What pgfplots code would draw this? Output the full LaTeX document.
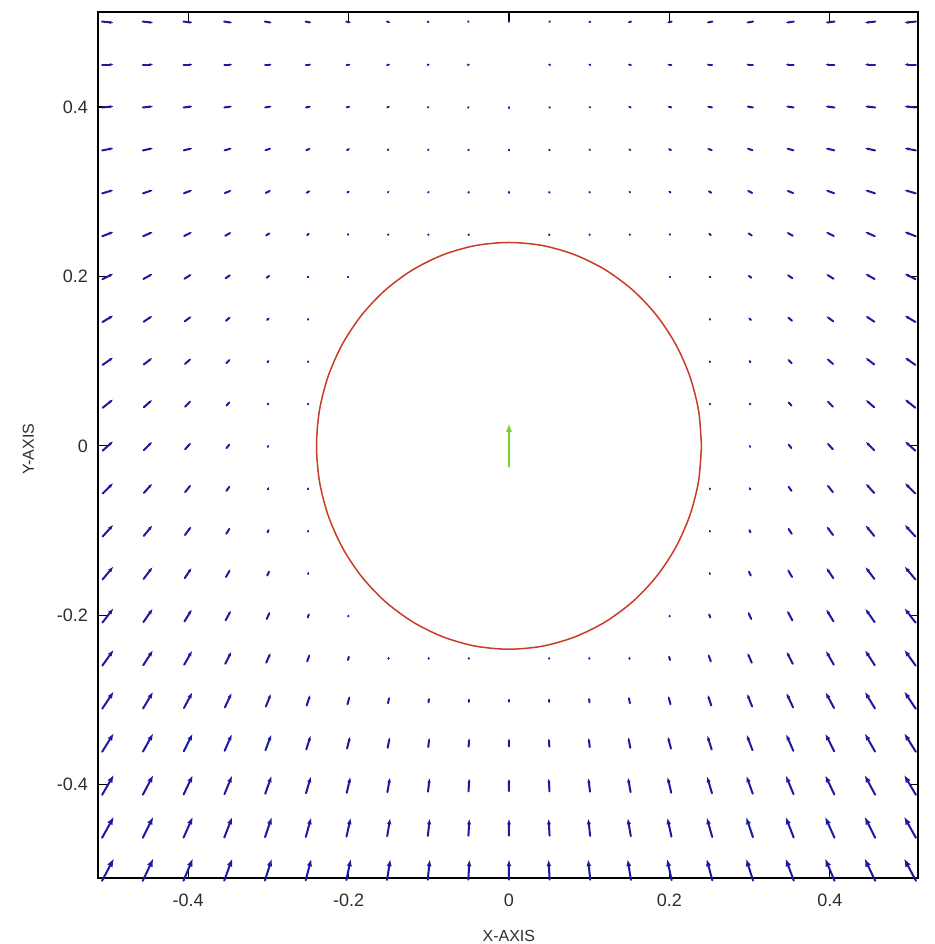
\documentclass[border=0pt]{standalone}
\usepackage{pgfplots}
\pgfplotsset{compat=1.18}
\usepackage{pgfplotstable}
\usetikzlibrary{arrows.meta}
\usepackage{fontspec}
\setmainfont{Liberation Sans}
\definecolor{arrowblue}{RGB}{30,25,160}
\definecolor{circred}{RGB}{200,60,40}
\definecolor{robotgreen}{RGB}{120,210,50}
\definecolor{labelgray}{RGB}{45,45,45}

\pgfplotstableread{
x y u v
-0.5 0.5 0.01493 -0.00141
-0.45 0.5 0.01338 -0.0014
-0.4 0.5 0.01182 -0.00139
-0.35 0.5 0.01025 -0.00138
-0.3 0.5 0.00868 -0.00136
-0.25 0.5 0.00711 -0.00134
-0.2 0.5 0.00558 -0.00132
-0.15 0.5 0.00411 -0.00129
-0.1 0.5 0.00269 -0.00127
-0.05 0.5 0.00182 -0.00171
0 0.5 0.00001 -0.0028
0.05 0.5 -0.00182 -0.00171
0.1 0.5 -0.00269 -0.00127
0.15 0.5 -0.00411 -0.00129
0.2 0.5 -0.00558 -0.00132
0.25 0.5 -0.00711 -0.00134
0.3 0.5 -0.00868 -0.00136
0.35 0.5 -0.01025 -0.00138
0.4 0.5 -0.01182 -0.00139
0.45 0.5 -0.01338 -0.0014
0.5 0.5 -0.01493 -0.00141
-0.5 0.45 0.01487 0
-0.45 0.45 0.01328 0
-0.4 0.45 0.01168 0
-0.35 0.45 0.01004 0
-0.3 0.45 0.0084 0
-0.25 0.45 0.00678 0
-0.2 0.45 0.00523 0
-0.15 0.45 0.00377 0
-0.1 0.45 0.0028 0
-0.05 0.45 0.0028 0
0.05 0.45 -0.0028 0
0.1 0.45 -0.0028 0
0.15 0.45 -0.00377 0
0.2 0.45 -0.00523 0
0.25 0.45 -0.00678 0
0.3 0.45 -0.0084 0
0.35 0.45 -0.01004 0
0.4 0.45 -0.01168 0
0.45 0.45 -0.01328 0
0.5 0.45 -0.01487 0
-0.5 0.4 0.01478 0.00139
-0.45 0.4 0.01314 0.00138
-0.4 0.4 0.01142 0.00135
-0.35 0.4 0.00968 0.0013
-0.3 0.4 0.00796 0.00125
-0.25 0.4 0.00625 0.00118
-0.2 0.4 0.00468 0.0011
-0.15 0.4 0.00325 0.00102
-0.1 0.4 0.00225 0.00107
-0.05 0.4 0.00181 0.00172
0 0.4 0.00001 0.0028
0.05 0.4 -0.00181 0.00172
0.1 0.4 -0.00225 0.00107
0.15 0.4 -0.00325 0.00102
0.2 0.4 -0.00468 0.0011
0.25 0.4 -0.00625 0.00118
0.3 0.4 -0.00796 0.00125
0.35 0.4 -0.00968 0.0013
0.4 0.4 -0.01142 0.00135
0.45 0.4 -0.01314 0.00138
0.5 0.4 -0.01478 0.00139
-0.5 0.35 0.01464 0.00276
-0.45 0.35 0.01291 0.00271
-0.4 0.35 0.01106 0.00261
-0.35 0.35 0.0092 0.00248
-0.3 0.35 0.0073 0.0023
-0.25 0.35 0.00548 0.00207
-0.2 0.35 0.00385 0.00182
-0.15 0.35 0.00251 0.00158
-0.1 0.35 0.00181 0.00171
-0.05 0.35 0.00117 0.00221
0 0.35 0.00001 0.0028
0.05 0.35 -0.00117 0.00221
0.1 0.35 -0.00181 0.00171
0.15 0.35 -0.00251 0.00158
0.2 0.35 -0.00385 0.00182
0.25 0.35 -0.00548 0.00207
0.3 0.35 -0.0073 0.0023
0.35 0.35 -0.0092 0.00248
0.4 0.35 -0.01106 0.00261
0.45 0.35 -0.01291 0.00271
0.5 0.35 -0.01464 0.00276
-0.5 0.3 0.01446 0.00409
-0.45 0.3 0.0126 0.00396
-0.4 0.3 0.01061 0.00375
-0.35 0.3 0.00852 0.00344
-0.3 0.3 0.00644 0.00304
-0.25 0.3 0.00447 0.00253
-0.2 0.3 0.00281 0.00199
-0.15 0.3 0.00182 0.00172
-0.1 0.3 0.00145 0.00203
-0.05 0.3 0.00082 0.00236
0 0.3 0.00001 0.0028
0.05 0.3 -0.00082 0.00236
0.1 0.3 -0.00145 0.00203
0.15 0.3 -0.00182 0.00172
0.2 0.3 -0.00281 0.00199
0.25 0.3 -0.00447 0.00253
0.3 0.3 -0.00644 0.00304
0.35 0.3 -0.00852 0.00344
0.4 0.3 -0.01061 0.00375
0.45 0.3 -0.0126 0.00396
0.5 0.3 -0.01446 0.00409
-0.5 0.25 0.01422 0.00537
-0.45 0.25 0.0122 0.00512
-0.4 0.25 0.01 0.00471
-0.35 0.25 0.00768 0.00414
-0.3 0.25 0.00536 0.00337
-0.25 0.25 0.00327 0.00247
-0.2 0.25 0.00182 0.00172
-0.15 0.25 0.00156 0.00196
-0.1 0.25 0.00117 0.00221
-0.05 0.25 0.0006 0.0024
0.05 0.25 -0.0006 0.0024
0.1 0.25 -0.00117 0.00221
0.15 0.25 -0.00156 0.00196
0.2 0.25 -0.00182 0.00172
0.25 0.25 -0.00327 0.00247
0.3 0.25 -0.00536 0.00337
0.35 0.25 -0.00768 0.00414
0.4 0.25 -0.01 0.00471
0.45 0.25 -0.0122 0.00512
0.5 0.25 -0.01422 0.00537
-0.5 0.2 0.01395 0.00658
-0.45 0.2 0.01177 0.00617
-0.4 0.2 0.00936 0.00552
-0.35 0.2 0.00674 0.00454
-0.3 0.2 0.00422 0.00332
-0.25 0.2 0.00206 0.00195
-0.2 0.2 0.00162 0.0019
0.2 0.2 -0.00162 0.0019
0.25 0.2 -0.00206 0.00195
0.3 0.2 -0.00422 0.00332
0.35 0.2 -0.00674 0.00454
0.4 0.2 -0.00936 0.00552
0.45 0.2 -0.01177 0.00617
0.5 0.2 -0.01395 0.00658
-0.5 0.15 0.0137 0.00775
-0.45 0.15 0.01131 0.00711
-0.4 0.15 0.00868 0.00614
-0.35 0.15 0.00585 0.00473
-0.3 0.15 0.00314 0.00296
-0.25 0.15 0.00166 0.00187
0.25 0.15 -0.00166 0.00187
0.3 0.15 -0.00314 0.00296
0.35 0.15 -0.00585 0.00473
0.4 0.15 -0.00868 0.00614
0.45 0.15 -0.01131 0.00711
0.5 0.15 -0.0137 0.00775
-0.5 0.1 0.01347 0.0089
-0.45 0.1 0.01095 0.00803
-0.4 0.1 0.0081 0.00669
-0.35 0.1 0.00508 0.00479
-0.3 0.1 0.0023 0.00253
-0.25 0.1 0.00151 0.002
0.25 0.1 -0.00151 0.002
0.3 0.1 -0.0023 0.00253
0.35 0.1 -0.00508 0.00479
0.4 0.1 -0.0081 0.00669
0.45 0.1 -0.01095 0.00803
0.5 0.1 -0.01347 0.0089
-0.5 0.05 0.01331 0.01004
-0.45 0.05 0.01065 0.00893
-0.4 0.05 0.0077 0.00727
-0.35 0.05 0.00458 0.00494
-0.3 0.05 0.00176 0.00221
-0.25 0.05 0.00138 0.00208
0.25 0.05 -0.00138 0.00208
0.3 0.05 -0.00176 0.00221
0.35 0.05 -0.00458 0.00494
0.4 0.05 -0.0077 0.00727
0.45 0.05 -0.01065 0.00893
0.5 0.05 -0.01331 0.01004
-0.5 0 0.01326 0.01126
-0.45 0 0.0106 0.01
-0.4 0 0.00758 0.00805
-0.35 0 0.00441 0.00535
-0.3 0 0.00158 0.00223
0.3 0 -0.00158 0.00223
0.35 0 -0.00441 0.00535
0.4 0 -0.00758 0.00805
0.45 0 -0.0106 0.01
0.5 0 -0.01326 0.01126
-0.5 -0.05 0.01331 0.01255
-0.45 -0.05 0.01065 0.01116
-0.4 -0.05 0.0077 0.00908
-0.35 -0.05 0.00458 0.00617
-0.3 -0.05 0.00176 0.00276
-0.25 -0.05 0.00117 0.00221
0.25 -0.05 -0.00117 0.00221
0.3 -0.05 -0.00176 0.00276
0.35 -0.05 -0.00458 0.00617
0.4 -0.05 -0.0077 0.00908
0.45 -0.05 -0.01065 0.01116
0.5 -0.05 -0.01331 0.01255
-0.5 -0.1 0.01347 0.01398
-0.45 -0.1 0.01095 0.01262
-0.4 -0.1 0.0081 0.01051
-0.35 -0.1 0.00508 0.00753
-0.3 -0.1 0.0023 0.00397
-0.25 -0.1 0.00112 0.00224
0.25 -0.1 -0.00112 0.00224
0.3 -0.1 -0.0023 0.00397
0.35 -0.1 -0.00508 0.00753
0.4 -0.1 -0.0081 0.01051
0.45 -0.1 -0.01095 0.01262
0.5 -0.1 -0.01347 0.01398
-0.5 -0.15 0.0137 0.0155
-0.45 -0.15 0.01131 0.01423
-0.4 -0.15 0.00868 0.01228
-0.35 -0.15 0.00585 0.00946
-0.3 -0.15 0.00314 0.00593
-0.25 -0.15 0.00102 0.00231
0.25 -0.15 -0.00102 0.00231
0.3 -0.15 -0.00314 0.00593
0.35 -0.15 -0.00585 0.00946
0.4 -0.15 -0.00868 0.01228
0.45 -0.15 -0.01131 0.01423
0.5 -0.15 -0.0137 0.0155
-0.5 -0.2 0.01395 0.01711
-0.45 -0.2 0.01177 0.01604
-0.4 -0.2 0.00936 0.01435
-0.35 -0.2 0.00674 0.01181
-0.3 -0.2 0.00422 0.00863
-0.25 -0.2 0.00206 0.00506
-0.2 -0.2 0.00078 0.00237
0.2 -0.2 -0.00078 0.00237
0.25 -0.2 -0.00206 0.00506
0.3 -0.2 -0.00422 0.00863
0.35 -0.2 -0.00674 0.01181
0.4 -0.2 -0.00936 0.01435
0.45 -0.2 -0.01177 0.01604
0.5 -0.2 -0.01395 0.01711
-0.5 -0.25 0.01422 0.01878
-0.45 -0.25 0.0122 0.01791
-0.4 -0.25 0.01 0.0165
-0.35 -0.25 0.00768 0.01448
-0.3 -0.25 0.00536 0.01181
-0.25 -0.25 0.00327 0.00864
-0.2 -0.25 0.00165 0.00545
-0.15 -0.25 0.00061 0.00269
-0.1 -0.25 0.00038 0.00247
-0.05 -0.25 0.00019 0.00249
0.05 -0.25 -0.00019 0.00249
0.1 -0.25 -0.00038 0.00247
0.15 -0.25 -0.00061 0.00269
0.2 -0.25 -0.00165 0.00545
0.25 -0.25 -0.00327 0.00864
0.3 -0.25 -0.00536 0.01181
0.35 -0.25 -0.00768 0.01448
0.4 -0.25 -0.01 0.0165
0.45 -0.25 -0.0122 0.01791
0.5 -0.25 -0.01422 0.01878
-0.5 -0.3 0.01446 0.02046
-0.45 -0.3 0.0126 0.0198
-0.4 -0.3 0.01061 0.01876
-0.35 -0.3 0.00852 0.01721
-0.3 -0.3 0.00644 0.0152
-0.25 -0.3 0.00447 0.01265
-0.2 -0.3 0.00281 0.00995
-0.15 -0.3 0.00157 0.00741
-0.1 -0.3 0.00077 0.00541
-0.05 -0.3 0.00029 0.00414
0 -0.3 0.00001 0.00371
0.05 -0.3 -0.00029 0.00414
0.1 -0.3 -0.00077 0.00541
0.15 -0.3 -0.00157 0.00741
0.2 -0.3 -0.00281 0.00995
0.25 -0.3 -0.00447 0.01265
0.3 -0.3 -0.00644 0.0152
0.35 -0.3 -0.00852 0.01721
0.4 -0.3 -0.01061 0.01876
0.45 -0.3 -0.0126 0.0198
0.5 -0.3 -0.01446 0.02046
-0.5 -0.35 0.01464 0.0221
-0.45 -0.35 0.01291 0.02164
-0.4 -0.35 0.01106 0.02087
-0.35 -0.35 0.0092 0.01983
-0.3 -0.35 0.0073 0.01836
-0.25 -0.35 0.00548 0.01655
-0.2 -0.35 0.00385 0.01453
-0.15 -0.35 0.00251 0.01261
-0.1 -0.35 0.00145 0.01096
-0.05 -0.35 0.00065 0.00987
0 -0.35 0.00001 0.00951
0.05 -0.35 -0.00065 0.00987
0.1 -0.35 -0.00145 0.01096
0.15 -0.35 -0.00251 0.01261
0.2 -0.35 -0.00385 0.01453
0.25 -0.35 -0.00548 0.01655
0.3 -0.35 -0.0073 0.01836
0.35 -0.35 -0.0092 0.01983
0.4 -0.35 -0.01106 0.02087
0.45 -0.35 -0.01291 0.02164
0.5 -0.35 -0.01464 0.0221
-0.5 -0.4 0.01478 0.0237
-0.45 -0.4 0.01314 0.0234
-0.4 -0.4 0.01142 0.0229
-0.35 -0.4 0.00968 0.02218
-0.3 -0.4 0.00796 0.02126
-0.25 -0.4 0.00625 0.02004
-0.2 -0.4 0.00468 0.01876
-0.15 -0.4 0.00325 0.01739
-0.1 -0.4 0.00203 0.01624
-0.05 -0.4 0.00096 0.01544
0 -0.4 0.00001 0.0152
0.05 -0.4 -0.00096 0.01544
0.1 -0.4 -0.00203 0.01624
0.15 -0.4 -0.00325 0.01739
0.2 -0.4 -0.00468 0.01876
0.25 -0.4 -0.00625 0.02004
0.3 -0.4 -0.00796 0.02126
0.35 -0.4 -0.00968 0.02218
0.4 -0.4 -0.01142 0.0229
0.45 -0.4 -0.01314 0.0234
0.5 -0.4 -0.01478 0.0237
-0.5 -0.45 0.01487 0.02524
-0.45 -0.45 0.01328 0.02506
-0.4 -0.45 0.01168 0.02478
-0.35 -0.45 0.01004 0.02435
-0.3 -0.45 0.0084 0.02376
-0.25 -0.45 0.00678 0.02302
-0.2 -0.45 0.00523 0.02221
-0.15 -0.45 0.00377 0.02134
-0.1 -0.45 0.00243 0.02066
-0.05 -0.45 0.00118 0.0201
0 -0.45 0.00001 0.02
0.05 -0.45 -0.00118 0.0201
0.1 -0.45 -0.00243 0.02066
0.15 -0.45 -0.00377 0.02134
0.2 -0.45 -0.00523 0.02221
0.25 -0.45 -0.00678 0.02302
0.3 -0.45 -0.0084 0.02376
0.35 -0.45 -0.01004 0.02435
0.4 -0.45 -0.01168 0.02478
0.45 -0.45 -0.01328 0.02506
0.5 -0.45 -0.01487 0.02524
-0.5 -0.5 0.01493 0.02675
-0.45 -0.5 0.01338 0.02664
-0.4 -0.5 0.01182 0.02648
-0.35 -0.5 0.01025 0.02624
-0.3 -0.5 0.00868 0.02592
-0.25 -0.5 0.00711 0.02549
-0.2 -0.5 0.00558 0.025
-0.15 -0.5 0.00411 0.02455
-0.1 -0.5 0.00269 0.02414
-0.05 -0.5 0.00133 0.02385
0 -0.5 0.00001 0.02377
0.05 -0.5 -0.00133 0.02385
0.1 -0.5 -0.00269 0.02414
0.15 -0.5 -0.00411 0.02455
0.2 -0.5 -0.00558 0.025
0.25 -0.5 -0.00711 0.02549
0.3 -0.5 -0.00868 0.02592
0.35 -0.5 -0.01025 0.02624
0.4 -0.5 -0.01182 0.02648
0.45 -0.5 -0.01338 0.02664
0.5 -0.5 -0.01493 0.02675
}\fieldtab

\pgfplotstableread{
x y u v
0 -0.025 0.00001 0.052
}\robottab

\begin{document}
\begin{tikzpicture}
\useasboundingbox (-49pt,-33pt) rectangle (418.5pt,439pt);
\begin{axis}[
  at={(0pt,0pt)}, anchor=south west,
  width=410pt, height=433pt, scale only axis,
  xmin=-0.5125, xmax=0.51, ymin=-0.51, ymax=0.512,
  xtick={-0.4,-0.2,0,0.2,0.4}, xticklabels={-0.4,-0.2,0,0.2,0.4},
  ytick={-0.4,-0.2,0,0.2,0.4}, yticklabels={-0.4,-0.2,0,0.2,0.4},
  tick align=inside, major tick length=4.5pt,
  tick style={black, line width=0.6pt},
  axis line style={black, line width=0.7pt},
  ticklabel style={font=\fontsize{9}{10}\selectfont, text=labelgray},
  xticklabel style={yshift=-4.5pt},
  yticklabel style={xshift=-1.5pt},
  clip=false,
  xlabel={X-AXIS}, ylabel={Y-AXIS},
  xlabel style={at={(axis description cs:0.501,-0.067)}, anchor=center, font=\fontsize{8}{9}\selectfont, text=labelgray},
  ylabel style={at={(axis description cs:-0.0848,0.495)}, anchor=center, font=\fontsize{8}{9}\selectfont, text=labelgray},
]
\addplot[arrowblue, line width=1pt, line cap=round,
  point meta={sqrt((1000*\thisrow{u})^2+(1000*\thisrow{v})^2)},
  point meta min=0, point meta max=31,
  quiver={u=\thisrow{u}, v=\thisrow{v},
    every arrow/.append style={-{Latex[length=4.4pt,width=3.2pt,scale length={max(0.25,\pgfplotspointmetatransformed/1000)},scale width={max(0.35,\pgfplotspointmetatransformed/1000)}]}}},
  ] table[x expr=\thisrow{x}-0.5*\thisrow{u}, y expr=\thisrow{y}-0.5*\thisrow{v}] {\fieldtab};
\addplot[circred, line width=0.75pt, smooth, mark=none] coordinates {
(0.24,0) (0.2364,0.0417) (0.2255,0.0821) (0.2078,0.12) (0.1838,0.1543) (0.1543,0.1838) (0.12,0.2078) (0.0821,0.2255) (0.0417,0.2364) (0,0.24)
(-0.0417,0.2364) (-0.0821,0.2255) (-0.12,0.2078) (-0.1543,0.1838) (-0.1838,0.1543) (-0.2078,0.12) (-0.2255,0.0821) (-0.2364,0.0417) (-0.24,0)
(-0.2364,-0.0417) (-0.2255,-0.0821) (-0.2078,-0.12) (-0.1838,-0.1543) (-0.1543,-0.1838) (-0.12,-0.2078) (-0.0821,-0.2255) (-0.0417,-0.2364) (0,-0.24)
(0.0417,-0.2364) (0.0821,-0.2255) (0.12,-0.2078) (0.1543,-0.1838) (0.1838,-0.1543) (0.2078,-0.12) (0.2255,-0.0821) (0.2364,-0.0417) (0.24,0)
};
\addplot[robotgreen, line width=0.8pt,
  quiver={u=\thisrow{u}, v=\thisrow{v},
    every arrow/.append style={-{Latex[length=4.5pt,width=3pt]}}},
  ] table {\robottab};
\end{axis}
\end{tikzpicture}
\end{document}
